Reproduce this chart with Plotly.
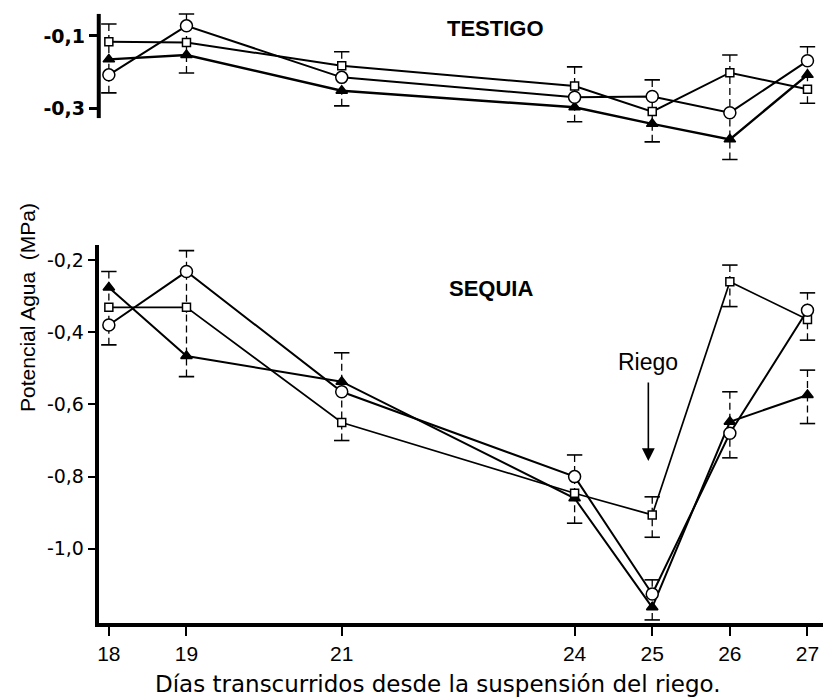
import plotly.graph_objects as go

# Days after irrigation was withheld
dias = [18, 19, 21, 24, 25, 26, 27]
tick_dias = ["18", "19", "21", "24", "25", "26", "27"]

# Control plants (TESTIGO), water potential in MPa
testigo_circulo = [-0.208, -0.072, -0.215, -0.270, -0.268, -0.313, -0.169]
testigo_cuadrado = [-0.116, -0.118, -0.183, -0.239, -0.310, -0.202, -0.248]
testigo_triangulo = [-0.165, -0.153, -0.252, -0.298, -0.344, -0.387, -0.208]

# Control error bars: day, upper limit, lower limit
testigo_err_dia = [18, 19, 21, 24, 25, 26, 27]
testigo_err_sup = [-0.067, -0.039, -0.144, -0.186, -0.222, -0.153, -0.130]
testigo_err_inf = [-0.258, -0.203, -0.294, -0.338, -0.394, -0.443, -0.287]

# Drought plants (SEQUIA), water potential in MPa
sequia_circulo = [-0.380, -0.232, -0.565, -0.800, -1.125, -0.680, -0.339]
sequia_cuadrado = [-0.331, -0.331, -0.650, -0.846, -0.906, -0.260, -0.365]
sequia_triangulo = [-0.276, -0.466, -0.537, -0.860, -1.162, -0.648, -0.574]

# Drought error bars: day, upper limit, lower limit
sequia_err_dia = [18, 19, 21, 24, 25, 25, 26, 26, 27, 27]
sequia_err_sup = [-0.232, -0.174, -0.457, -0.740, -0.856, -1.086, -0.214, -0.565, -0.291, -0.505]
sequia_err_inf = [-0.435, -0.523, -0.700, -0.929, -0.968, -1.197, -0.329, -0.748, -0.422, -0.653]

# Y-axis ticks
testigo_ticks = [-0.1, -0.3]
testigo_ticktext = ["-0,1", "-0,3"]
sequia_ticks = [-0.2, -0.4, -0.6, -0.8, -1.0]
sequia_ticktext = ["-0,2", "-0,4", "-0,6", "-0,8", "-1,0"]

dia_riego = 25

FONT = "Liberation Sans, Arial, sans-serif"
WIDE = "DejaVu Sans, Liberation Sans, sans-serif"
W, H = 823, 700

fig = go.Figure()


def add_error_bars(xref, yref, dia, sup, inf):
    xs, ys = [], []
    for d, s, i in zip(dia, sup, inf):
        mid = (s + i) / 2
        xs += [d, d, None, d, d, None]
        ys += [s, mid, None, i, mid, None]
    fig.add_trace(go.Scatter(
        x=xs, y=ys, xaxis=xref, yaxis=yref, mode="lines",
        line=dict(color="black", width=1.3, dash="7px,4px"),
        hoverinfo="skip", showlegend=False))
    fig.add_trace(go.Scatter(
        x=list(dia) + list(dia), y=list(sup) + list(inf),
        xaxis=xref, yaxis=yref, mode="markers",
        marker=dict(symbol="line-ew", size=11, color="black",
                    line=dict(color="black", width=1.6)),
        hoverinfo="skip", showlegend=False))


def add_series(xref, yref, y, symbol, size, fill, name, width=2):
    fig.add_trace(go.Scatter(
        x=dias, y=y, xaxis=xref, yaxis=yref, mode="lines+markers", name=name,
        line=dict(color="black", width=width),
        marker=dict(symbol=symbol, size=size, color=fill,
                    line=dict(color="black", width=1.5)),
        showlegend=False))


# Top panel (control)
add_error_bars("x2", "y2", testigo_err_dia, testigo_err_sup, testigo_err_inf)
add_series("x2", "y2", testigo_triangulo, "triangle-up", 10, "black", "triangulo", 2.4)
add_series("x2", "y2", testigo_cuadrado, "square", 8, "white", "cuadrado")
add_series("x2", "y2", testigo_circulo, "circle", 12, "white", "circulo")

# Bottom panel (drought)
add_error_bars("x", "y", sequia_err_dia, sequia_err_sup, sequia_err_inf)
add_series("x", "y", sequia_triangulo, "triangle-up", 10, "black", "triangulo")
add_series("x", "y", sequia_cuadrado, "square", 8, "white", "cuadrado", 1.7)
add_series("x", "y", sequia_circulo, "circle", 12, "white", "circulo")

x_dom = [97 / W, 1.0]
x_range = [17.87, 27.2]

fig.update_layout(
    width=W, height=H,
    margin=dict(l=0, r=0, t=0, b=0),
    paper_bgcolor="white", plot_bgcolor="white",
    font=dict(family=FONT, color="black"),
    xaxis=dict(domain=x_dom, range=x_range, anchor="y",
               tickmode="array", tickvals=dias, ticktext=tick_dias,
               ticks="outside", ticklen=9, tickwidth=2, tickcolor="black",
               showline=True, linewidth=4, linecolor="black",
               showgrid=False, zeroline=False,
               tickfont=dict(family=FONT, size=21, color="black")),
    yaxis=dict(domain=[(H - 623) / H, (H - 245) / H],
               range=[-1.2055, -0.1584], anchor="x",
               tickmode="array", tickvals=sequia_ticks, ticktext=sequia_ticktext,
               ticks="outside", ticklen=7, tickwidth=2, tickcolor="black",
               showline=True, linewidth=4, linecolor="black",
               showgrid=False, zeroline=False,
               tickfont=dict(family=WIDE, size=19, color="black")),
    xaxis2=dict(domain=x_dom, range=x_range, anchor="y2", matches="x",
                visible=False, showgrid=False, zeroline=False),
    yaxis2=dict(domain=[(H - 166) / H, (H - 10) / H],
                range=[-0.461, -0.028], anchor="x2",
                tickmode="array", tickvals=testigo_ticks, ticktext=testigo_ticktext,
                ticks="outside", ticklen=9, tickwidth=2.5, tickcolor="black",
                showline=False, showgrid=False, zeroline=False,
                tickfont=dict(family=WIDE, size=19, color="black", weight="bold")),
)

# Short vertical axis line of the control panel
fig.add_shape(type="line", xref="x2 domain", yref="y2",
              x0=0, x1=0, y0=-0.0389, y1=-0.328,
              line=dict(color="black", width=4))

fig.add_annotation(text="<b>TESTIGO</b>", xref="paper", yref="paper",
                   x=495 / W, y=1 - 28 / H, showarrow=False,
                   xanchor="center", yanchor="middle",
                   font=dict(family=FONT, size=22))
fig.add_annotation(text="<b>SEQUIA</b>", xref="paper", yref="paper",
                   x=490 / W, y=1 - 288 / H, showarrow=False,
                   xanchor="center", yanchor="middle",
                   font=dict(family=FONT, size=22))

# Irrigation marker
fig.add_annotation(text="Riego", xref="x", yref="y", x=dia_riego - 0.06, y=-0.483,
                   showarrow=False, xanchor="center", yanchor="middle",
                   font=dict(family=FONT, size=23))
fig.add_annotation(text="", xref="x", yref="y", x=dia_riego - 0.05, y=-0.757,
                   ax=0, ay=-80, showarrow=True, arrowhead=2, arrowsize=1.6,
                   arrowwidth=1.6, arrowcolor="black")

fig.add_annotation(text="Potencial Agua  (MPa)", xref="paper", yref="paper",
                   x=25 / W, y=1 - 307 / H, textangle=-90, showarrow=False,
                   xanchor="center", yanchor="middle",
                   font=dict(family=FONT, size=21))
fig.add_annotation(text="Días transcurridos desde la suspensión del riego.",
                   xref="paper", yref="paper", x=437 / W, y=1 - 684 / H,
                   showarrow=False, xanchor="center", yanchor="middle",
                   font=dict(family=WIDE, size=23))

fig.write_html("out.html")
